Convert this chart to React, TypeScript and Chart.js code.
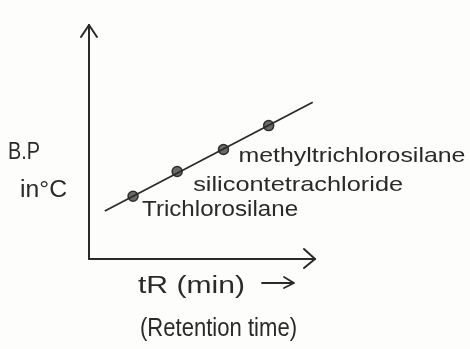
import React, { useEffect, useRef } from "react";
import { Chart, registerables } from "chart.js";

Chart.register(...registerables);

// Retention time (arbitrary units) vs boiling point (arbitrary units)
const lineX = [0.7, 9.9];
const lineY = [2.05, 6.7];
const pointX = [1.95, 3.9, 5.95, 7.95];
const pointY = [2.68, 3.74, 4.68, 5.7];
const pointLabels = ["Trichlorosilane", "silicontetrachloride", "methyltrichlorosilane"];
const xTitle = ["tR (min)", "(Retention time)"];
const yTitle = ["B.P", "in°C"];
const axisMin = 0;
const axisMax = 10;

const INK = "#2a2a2a";
const FONT = '"Liberation Sans", "DejaVu Sans", sans-serif';

function fitText(ctx: CanvasRenderingContext2D, text: string, x: number, y: number, w: number, size: number) {
  ctx.font = `${size}px ${FONT}`;
  const m = ctx.measureText(text).width;
  ctx.save();
  ctx.translate(x, y);
  ctx.scale(w / m, 1);
  ctx.textBaseline = "alphabetic";
  ctx.textAlign = "left";
  ctx.fillStyle = INK;
  ctx.fillText(text, 0, 0);
  ctx.restore();
}

function chevron(ctx: CanvasRenderingContext2D, pts: number[][]) {
  ctx.beginPath();
  ctx.moveTo(pts[0][0], pts[0][1]);
  for (let i = 1; i < pts.length; i++) ctx.lineTo(pts[i][0], pts[i][1]);
  ctx.stroke();
}

const labelStyle = [
  { dx: 9, dy: 20, w: 156, size: 22 },
  { dx: 16, dy: 20, w: 210, size: 21 },
  { dx: 15, dy: 13, w: 227, size: 21 },
];

const sketchPlugin = {
  id: "sketch",
  beforeDraw(chart: any) {
    const ctx = chart.ctx;
    ctx.save();
    ctx.fillStyle = "#fdfdfc";
    ctx.fillRect(0, 0, chart.width, chart.height);
    ctx.restore();
  },
  afterDraw(chart: any) {
    const ctx: CanvasRenderingContext2D = chart.ctx;
    const { left, right, top, bottom } = chart.chartArea;
    const xs = chart.scales.x;
    const ys = chart.scales.y;
    ctx.save();
    ctx.strokeStyle = INK;
    ctx.lineWidth = 2;
    ctx.lineCap = "round";
    ctx.lineJoin = "round";
    // axis arrowheads
    chevron(ctx, [[left - 8, top + 12], [left, top], [left + 8, top + 12]]);
    chevron(ctx, [[right - 11, bottom - 10], [right, bottom], [right - 11, bottom + 9]]);
    // point labels anchored to the data points
    pointLabels.forEach((t, i) => {
      const s = labelStyle[i];
      const px = xs.getPixelForValue(pointX[i]);
      const py = ys.getPixelForValue(pointY[i]);
      fitText(ctx, t, px + s.dx, py + s.dy, s.w, s.size);
    });
    // y title
    fitText(ctx, yTitle[0], left - 81, 159, 32, 24);
    fitText(ctx, yTitle[1], left - 69, 197, 47, 23);
    // x title
    fitText(ctx, xTitle[0], left + 49, bottom + 34, 107, 23);
    fitText(ctx, xTitle[1], left + 51, bottom + 77, 157, 26);
    // arrow after tR (min)
    ctx.lineWidth = 1.8;
    ctx.beginPath();
    ctx.moveTo(left + 173, bottom + 24);
    ctx.lineTo(left + 204, bottom + 24);
    ctx.stroke();
    chevron(ctx, [[left + 195, bottom + 18], [left + 205, bottom + 24], [left + 195, bottom + 29]]);
    ctx.restore();
  },
};

export default function App() {
  const ref = useRef<HTMLCanvasElement>(null);
  useEffect(() => {
    if (!ref.current) return;
    const chart = new Chart(ref.current, {
      type: "scatter",
      data: {
        datasets: [
          {
            type: "line",
            data: lineX.map((x, i) => ({ x, y: lineY[i] })),
            borderColor: INK,
            borderWidth: 1.8,
            pointRadius: 0,
            fill: false,
          },
          {
            data: pointX.map((x, i) => ({ x, y: pointY[i] })),
            backgroundColor: "#6a6a6a",
            borderColor: "#2e2e2e",
            borderWidth: 1.5,
            pointRadius: 5,
          },
        ],
      },
      options: {
        responsive: false,
        animation: false,
        layout: { padding: { left: 89, top: 25, right: 155, bottom: 90 } },
        plugins: { legend: { display: false }, tooltip: { enabled: false }, title: { display: false } },
        scales: {
          x: {
            type: "linear",
            min: axisMin,
            max: axisMax,
            grid: { display: false, drawTicks: false },
            ticks: { display: false },
            border: { display: true, color: INK, width: 2 },
          },
          y: {
            type: "linear",
            min: axisMin,
            max: axisMax,
            grid: { display: false, drawTicks: false },
            ticks: { display: false },
            border: { display: true, color: INK, width: 2 },
          },
        },
      },
      plugins: [sketchPlugin],
    } as any);
    return () => chart.destroy();
  }, []);
  return (
    <div style={{ position: "fixed", left: 0, top: 0, width: 470, height: 349 }}>
      <canvas ref={ref} width={470} height={349} style={{ display: "block" }} />
    </div>
  );
}
